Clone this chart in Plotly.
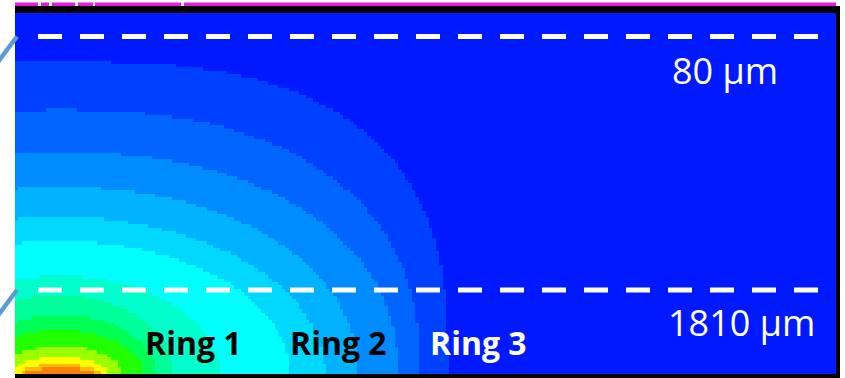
import numpy as np
import plotly.graph_objects as go

# ---------------- data (pixel units) ----------------
band_colors = ["#0019ff", "#0040ff", "#0066ff", "#008cff", "#00b2ff", "#00d8ff",
               "#00ffff", "#00ffcc", "#00ff99", "#00ff55", "#22ff00", "#99ff00",
               "#ffff00", "#ffbb00", "#ff8000"]
# outer edge of each band (band 1..14): top y on the source column, x on the bottom edge
band_top_y = [62, 110, 152, 187, 217, 241, 276, 295, 315, 330, 346, 357, 364, 368]
band_bottom_x = [448, 420, 398, 358, 325, 290, 220, 172, 156, 143, 122, 108, 100, 95]
band_shape_n = [2.8, 2.4, 2.2, 2.1, 2.0, 2.0, 2.0, 2.0, 2.0, 2.0, 2.0, 2.0, 2.0, 2.0]
source_x = 60
source_y = 374

depth_labels = ["80 µm", "1810 µm"]
depth_line_y = [36.5, 290]
ring_labels = ["Ring 1", "Ring 2", "Ring 3"]
ring_x = [193.5, 338, 478]
ring_colors = ["black", "black", "white"]

# ---------------- field grid ----------------
X0, X1, Y0, Y1 = 15, 836, 13, 374
cell = 3.42
nx = int(round((X1 - X0) / cell))
ny = int(round((Y1 - Y0) / cell))
xs = X0 + (np.arange(nx) + 0.5) * (X1 - X0) / nx
ys = Y0 + (np.arange(ny) + 0.5) * (Y1 - Y0) / ny
XX, YY = np.meshgrid(xs, ys)
z = np.zeros_like(XX)
for k in range(len(band_top_y)):
    a = band_bottom_x[k] - source_x
    b = source_y - band_top_y[k]
    n = band_shape_n[k]
    inside = (np.abs(XX - source_x) / a) ** n + (np.abs(source_y - YY) / b) ** n <= 1
    z[inside] = k + 1

N = len(band_colors)
cs = []
for i, c in enumerate(band_colors):
    cs.append([i / N, c])
    cs.append([(i + 1) / N, c])

fig = go.Figure(go.Heatmap(x=xs, y=ys, z=z, colorscale=cs, zmin=-0.5, zmax=N - 0.5,
                           showscale=False, zsmooth=False, hoverinfo="skip"))

shapes = []
# magenta top line with small gaps
shapes.append(dict(type="rect", x0=15, x1=836, y0=2.5, y1=6, fillcolor="#e61ce0", line_width=0, layer="above"))
for g0, g1 in [(38, 41), (49, 52), (75, 78), (93, 95), (181, 184)]:
    shapes.append(dict(type="rect", x0=g0, x1=g1, y0=2, y1=6.5, fillcolor="white", line_width=0, layer="above"))
# black frame
shapes.append(dict(type="rect", x0=15, x1=840, y0=6, y1=13, fillcolor="black", line_width=0, layer="above"))
shapes.append(dict(type="rect", x0=836, x1=840, y0=6, y1=378, fillcolor="black", line_width=0, layer="above"))
shapes.append(dict(type="rect", x0=15, x1=840, y0=374, y1=378, fillcolor="black", line_width=0, layer="above"))
# dashed depth lines
for yv in depth_line_y:
    shapes.append(dict(type="line", x0=38, x1=818, y0=yv, y1=yv,
                       line=dict(color="white", width=5, dash="24px,18px"), layer="above"))
# blue callout lines at the left edge
for yv in depth_line_y:
    shapes.append(dict(type="line", x0=17, y0=yv, x1=-4, y1=yv + 28,
                       line=dict(color="#5b9bd5", width=4.5), layer="above"))

ann = []
ann.append(dict(x=724.5, y=70, text=depth_labels[0], showarrow=False, xanchor="center", yanchor="middle",
                font=dict(family="Open Sans", size=36, color="white")))
ann.append(dict(x=741, y=322, text=depth_labels[1], showarrow=False, xanchor="center", yanchor="middle",
                font=dict(family="Open Sans", size=36, color="white")))
for lab, xv, col in zip(ring_labels, ring_x, ring_colors):
    ann.append(dict(x=xv, y=342, text="<b>" + lab + "</b>", showarrow=False, xanchor="center", yanchor="middle",
                    font=dict(family="Open Sans", size=32, color=col)))

fig.update_layout(width=845, height=378, margin=dict(l=0, r=0, t=0, b=0),
                  paper_bgcolor="white", plot_bgcolor="white",
                  xaxis=dict(range=[0, 845], visible=False, fixedrange=True),
                  yaxis=dict(range=[378, 0], visible=False, fixedrange=True),
                  shapes=shapes, annotations=ann, showlegend=False)
fig.write_html("out.html")
